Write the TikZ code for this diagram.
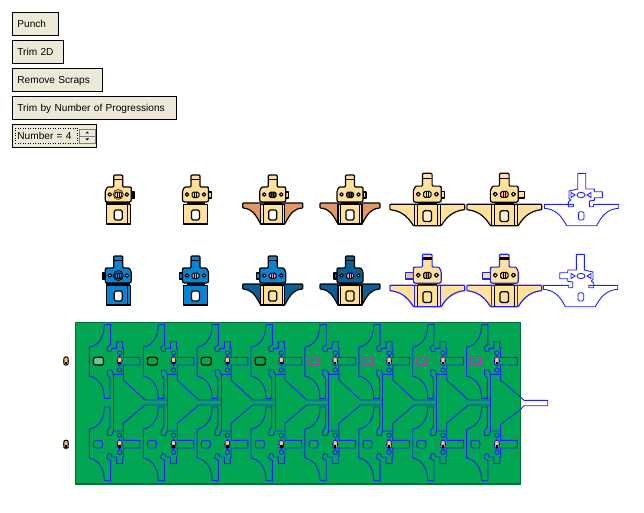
\documentclass[tikz,border=0pt]{standalone}
\usepackage{fontspec}
\setmainfont{Liberation Sans}
\definecolor{btnfill}{HTML}{ECE9D8}
\definecolor{partcream}{HTML}{FFE09C}
\definecolor{wingbrown}{HTML}{E09868}
\definecolor{partblue}{HTML}{0A84D0}
\definecolor{wingblue}{HTML}{0A5F94}
\definecolor{outblue}{HTML}{2222F5}
\definecolor{stripgreen}{HTML}{00A651}
\definecolor{stripdark}{HTML}{007038}
\definecolor{pilotorange}{HTML}{F8C080}
\definecolor{slotpurple}{HTML}{D8A0E0}
\definecolor{windowpink}{HTML}{F010E0}
\tikzset{
  btn/.style={draw=black,fill=btnfill,line width=0.9pt,anchor=north west,minimum height=22.5pt,inner xsep=5pt,inner ysep=0pt,align=left,text height=8pt,text depth=2pt,font=\fontsize{10.1}{12}\selectfont},
  stampline/.style={line width=1.2pt,line join=round},
  webline/.style={draw=outblue,line width=0.9pt},
}
% wings: half width, top, inner x, bottom, fill, line
\newcommand{\stampwings}[6]{
  \draw[stampline,fill=#5,draw=#6,rounded corners=0.8pt] (-#1,#2) -- (#1,#2) -- (#1,#2+5)
    .. controls (#1-9,#2+6) and (#3+6,#2+10) .. (#3,#4) -- (-#3,#4)
    .. controls (-#3-6,#2+10) and (-#1+9,#2+6) .. (-#1,#2+5) -- cycle;
}
% head: fill, line, side, tab length, tab fill
\newcommand{\stamphead}[5]{
  \begin{scope}[xscale=#3]
    \draw[stampline,fill=#5,draw=#2] (13,17) rectangle (13+#4,23);
    \draw[stampline,fill=#1,draw=#2,rounded corners=1pt] (-4.5,0) -- (4.5,0) -- (4.5,12) -- (12.5,12) -- (13,13)
      -- (13,26) -- (12,27) -- (-12,27) -- (-13,26) -- (-13,16) -- (-11,12) -- (-4.5,12) -- cycle;
    \draw[black,line width=1pt] (-4.5,4.5) -- (4.5,4.5);
    \draw[stampline,draw=black,fill=white] (-8.5,19.5) circle (1.8) (8.5,19.5) circle (1.8);
  \end{scope}
}
\newcommand{\stampslot}[1]{
  \draw[line width=1pt,draw=black,fill=#1,rounded corners=1.5pt] (-3.5,17) rectangle (3.5,22.5);
  \draw[black,line width=0.8pt] (-1,17) -- (-1,22.5) (1,17) -- (1,22.5);
}
% body: fill, line, window fill
\newcommand{\stampbody}[3]{
  \fill[black] (-9,27) rectangle (9,29.5);
  \draw[stampline,fill=#1,draw=#2] (-12,29.5) rectangle (12,49);
  \draw[stampline,fill=#3,draw=black,rounded corners=1.5pt] (-4,35) rectangle (4,45);
}
\newcommand{\stampribs}{
  \draw[black,line width=1pt] (-9.5,29.5) -- (-9.5,49) (9.5,29.5) -- (9.5,49);
}
% finished outline of one part
\newcommand{\stampoutline}{
  \draw[webline,line join=round] (-3.3,8.3) -- (4.7,8.3) -- (4.7,24) -- (13.3,24) -- (13.3,26.7) -- (21.3,26.7)
    -- (21.3,32.7) -- (13.3,32.7) -- (13.3,35.3) -- (8.3,36) -- (8.3,41.7) -- (12.3,41.7) -- (12.3,39.3) -- (37.7,39.3)
    -- (37.7,43.3) .. controls (27,44) and (21,50) .. (15.7,60.7) -- (-14.3,60.7) .. controls (-20,50) and (-26,44) .. (-36.7,43.3)
    -- (-36.7,39.3) -- (-7.7,39.3) -- (-7.7,41.7) -- (-12.7,41.7) -- (-12.7,37) -- (-10.3,35) -- (-12,33.3) -- (-12,26) -- (-3.3,24) -- cycle;
  \draw[webline,rounded corners=1.5pt] (-2.7,46.7) rectangle (3,55);
  \draw[webline] (0,30) ellipse (4 and 2.7);
  \draw[webline] (-10,27.5) -- (-10,32.5) -- (-6,30) -- cycle (10,27.5) -- (10,32.5) -- (6,30) -- cycle;
}
% one cell of the strip, origin at its left edge and centre line
\newcommand{\stripcell}{
  \draw[webline] (0,-13.7) .. controls (12,-16) and (15,-28) .. (15,-36) -- (21.3,-36.7) -- (21.3,-16) -- (17.3,-13.7) -- (19,-9.3)
    -- (22.3,-10) -- (22.3,-12.7) -- (27.3,-12.7) -- (27.3,-19.3) -- (33.3,-19.3) -- (33.3,-12.7) -- (34,-12.7) -- (34,-3.7)
    -- (50.7,-3.7) -- (50.7,4) -- (34,4) -- (34,13.3) -- (24,13.3) -- (22.3,9) -- (18,9) -- (18,14) -- (20.7,17.3) -- (20.7,37.3)
    -- (15,37.3) .. controls (15,28) and (12,18) .. (0,15) -- cycle;
  \draw[webline] (30.3,-8) circle (2.2) (30.3,9) circle (2.2);
}
\newcommand{\pilotmark}[1]{
  \draw[draw=#1,line width=1pt,fill=pilotorange,rounded corners=1pt] (-2.2,-3.8) rectangle (2.2,3.8);
  \fill[black] (-1.2,0.8) rectangle (1.2,3.2);
  \fill[black] (-2.8,-0.6) rectangle (-2,0.6) (2,-0.6) rectangle (2.8,0.6);
  \fill[black] (-0.4,-5) rectangle (0.4,-4) (-0.4,4) rectangle (0.4,5);
}
\begin{document}
\begin{tikzpicture}[x=1pt,y=-1pt]
\useasboundingbox (0,0) rectangle (644,513);
\fill[white] (0,0) rectangle (644,513);
% buttons
\node[btn,text width=35.5pt] (punch) at (12,12.5) {Punch};
\node[btn,text width=41pt] (trim) at (12,40.5) {Trim 2D};
\node[btn,text width=80pt] (scraps) at (12,68.5) {Remove Scraps};
\node[btn,text width=154pt] (progs) at (12,96.5) {Trim by Number of Progressions};
\node[btn,text width=74pt] (number) at (12,124.5) {Number = 4};
\draw[black,line width=0.5pt,dotted] (15.5,128) rectangle (77.5,143.5);
\draw[fill=btnfill,draw=gray,line width=0.7pt] (79,129) rectangle (95.5,136);
\draw[fill=btnfill,draw=gray,line width=0.7pt] (79,136) rectangle (95.5,143.5);
\fill[black] (85.5,133.5) -- (89,133.5) -- (87.2,131.5) -- cycle;
\fill[black] (85.5,138.5) -- (89,138.5) -- (87.2,140.5) -- cycle;
% top row
\begin{scope}[shift={(118.3,175)}]
  \stampbody{partcream}{black}{white}
  \fill[black] (-12,27) rectangle (12,29.5);
  \draw[black,line width=1pt] (9.5,29.5) -- (9.5,49);
  \stamphead{partcream}{black}{1}{3}{black}
  \stampslot{partcream}
  \draw[line width=0.8pt,draw=black!60!orange] (0,19.5) circle (5);
\end{scope}
\begin{scope}[shift={(195.5,175)}]
  \stampbody{partcream}{black}{white}
  \stamphead{partcream}{black}{1}{3}{partcream}
  \stampslot{pilotorange}
\end{scope}
\begin{scope}[shift={(272.7,175)}]
  \stampwings{30}{28}{12}{49}{wingbrown}{black}
  \stampbody{partcream}{black}{white}
  \stampribs
  \stamphead{partcream}{black}{1}{3}{partcream}
  \stampslot{black!70}
\end{scope}
\begin{scope}[shift={(350,175)}]
  \stampwings{30}{28}{12}{49}{wingbrown}{black}
  \stampbody{partcream}{black}{white}
  \stampribs
  \stamphead{partcream}{black}{1}{3}{partcream}
  \stampslot{black!70}
\end{scope}
\begin{scope}[shift={(427.3,173.3)},scale=1.07]
  \stampwings{35}{29}{13}{49}{partcream}{black}
  \stampbody{partcream}{black}{partcream!50}
  \stampribs
  \stamphead{partcream}{black}{1}{3}{partcream}
  \stampslot{yellow}
\end{scope}
\begin{scope}[shift={(504.3,173.3)},scale=1.07]
  \stampwings{35}{29}{13}{49}{partcream}{black}
  \stampbody{partcream}{black}{partcream!50}
  \stampribs
  \stamphead{partcream}{black}{1}{6}{partcream}
  \stampslot{pilotorange}
\end{scope}
\begin{scope}[shift={(581,165)}]
  \stampoutline
\end{scope}
% bottom row
\begin{scope}[shift={(118.3,256)}]
  \stampbody{partblue}{black}{white}
  \fill[black] (-12,27) rectangle (12,29.5);
  \draw[black,line width=1pt] (9.5,29.5) -- (9.5,49);
  \stamphead{partblue}{black}{-1}{3}{black}
  \stampslot{partblue}
  \draw[line width=0.8pt,draw=black] (0,19.5) circle (5);
\end{scope}
\begin{scope}[shift={(195.5,256)}]
  \stampbody{partblue}{black}{white}
  \stamphead{partblue}{black}{-1}{3}{partblue}
  \stampslot{slotpurple}
\end{scope}
\begin{scope}[shift={(272.7,256)}]
  \stampwings{30}{28}{12}{49}{wingblue}{black}
  \stampbody{partcream}{black}{partcream}
  \stampribs
  \stamphead{partblue}{black}{-1}{3}{partblue}
  \stampslot{slotpurple}
\end{scope}
\begin{scope}[shift={(350,256)}]
  \stampwings{30}{28}{12}{49}{wingblue}{black}
  \stampbody{partcream}{black}{partcream}
  \stampribs
  \stamphead{wingblue}{black}{-1}{3}{wingblue}
  \stampslot{slotpurple}
\end{scope}
\begin{scope}[shift={(427.3,254.3)},scale=1.07]
  \stampwings{35}{29}{13}{49}{partcream}{outblue}
  \stampbody{partcream}{outblue}{partcream}
  \stampribs
  \stamphead{partcream}{outblue}{-1}{7.5}{wingbrown!60}
  \stampslot{wingbrown}
  \fill[black] (-4,2.5) rectangle (4,5.5);
\end{scope}
\begin{scope}[shift={(504.3,254.3)},scale=1.07]
  \stampwings{35}{29}{13}{49}{partcream}{outblue}
  \stampbody{partcream}{outblue}{partcream}
  \stampribs
  \stamphead{partcream}{outblue}{-1}{7.5}{partcream}
  \stampslot{pilotorange}
  \fill[black] (-4,2.5) rectangle (4,5.5);
\end{scope}
\begin{scope}[shift={(581,246)},xscale=-1]
  \stampoutline
\end{scope}
% strip
\draw[draw=stripdark,fill=stripgreen,line width=1.5pt] (75.7,322.7) rectangle (520.3,484);
\foreach \k in {0,...,7} {
  \begin{scope}[shift={(89.3+53.9*\k,361)}]
    \stripcell
    \draw[webline] (24,13.3) -- (24,70);
    \begin{scope}[shift={(30.3,0)}]
      \pilotmark{outblue}
    \end{scope}
  \end{scope}
  \begin{scope}[shift={(89.3+53.9*\k,444.3)},yscale=-1]
    \stripcell
  \end{scope}
  \begin{scope}[shift={(119.6+53.9*\k,444.3)}]
    \pilotmark{outblue}
  \end{scope}
}
\foreach \k in {0,...,6} {
  \begin{scope}[shift={(89.3+53.9*\k,0)}]
    \draw[webline] (34,374.3) -- (34,380) -- (55.7,400) -- (77.9,400);
    \draw[webline] (34,431) -- (34,423.3) -- (55.7,405) -- (77.9,405);
  \end{scope}
}
\draw[webline] (500.6,374.3) -- (500.6,380) -- (520,396.7) -- (524,400.3) -- (547.7,400.3) -- (547.7,405.7) -- (524,405.7) -- (520,410) -- (500.6,424.3) -- (500.6,431);
% windows, top row
\foreach \k/\col in {1/black,2/black,3/black,4/windowpink,5/windowpink,6/windowpink,7/windowpink} {
  \draw[draw=\col,line width=1.3pt,rounded corners=2pt] ({93.5+53.9*\k},357.3) rectangle ({103.5+53.9*\k},365);
}
\draw[draw=black,fill=stripgreen!60!white,line width=1.2pt,rounded corners=2pt] (93.5,357.3) rectangle (103.5,365);
% windows, bottom row
\foreach \k in {0,...,7} {
  \draw[webline,rounded corners=2pt] ({93.5+53.9*\k},440.5) rectangle ({102.5+53.9*\k},448);
}
% pilots outside
\begin{scope}[shift={(66,361)}]
  \pilotmark{black}
\end{scope}
\begin{scope}[shift={(66,444.3)}]
  \pilotmark{black}
\end{scope}
\end{tikzpicture}
\end{document}
